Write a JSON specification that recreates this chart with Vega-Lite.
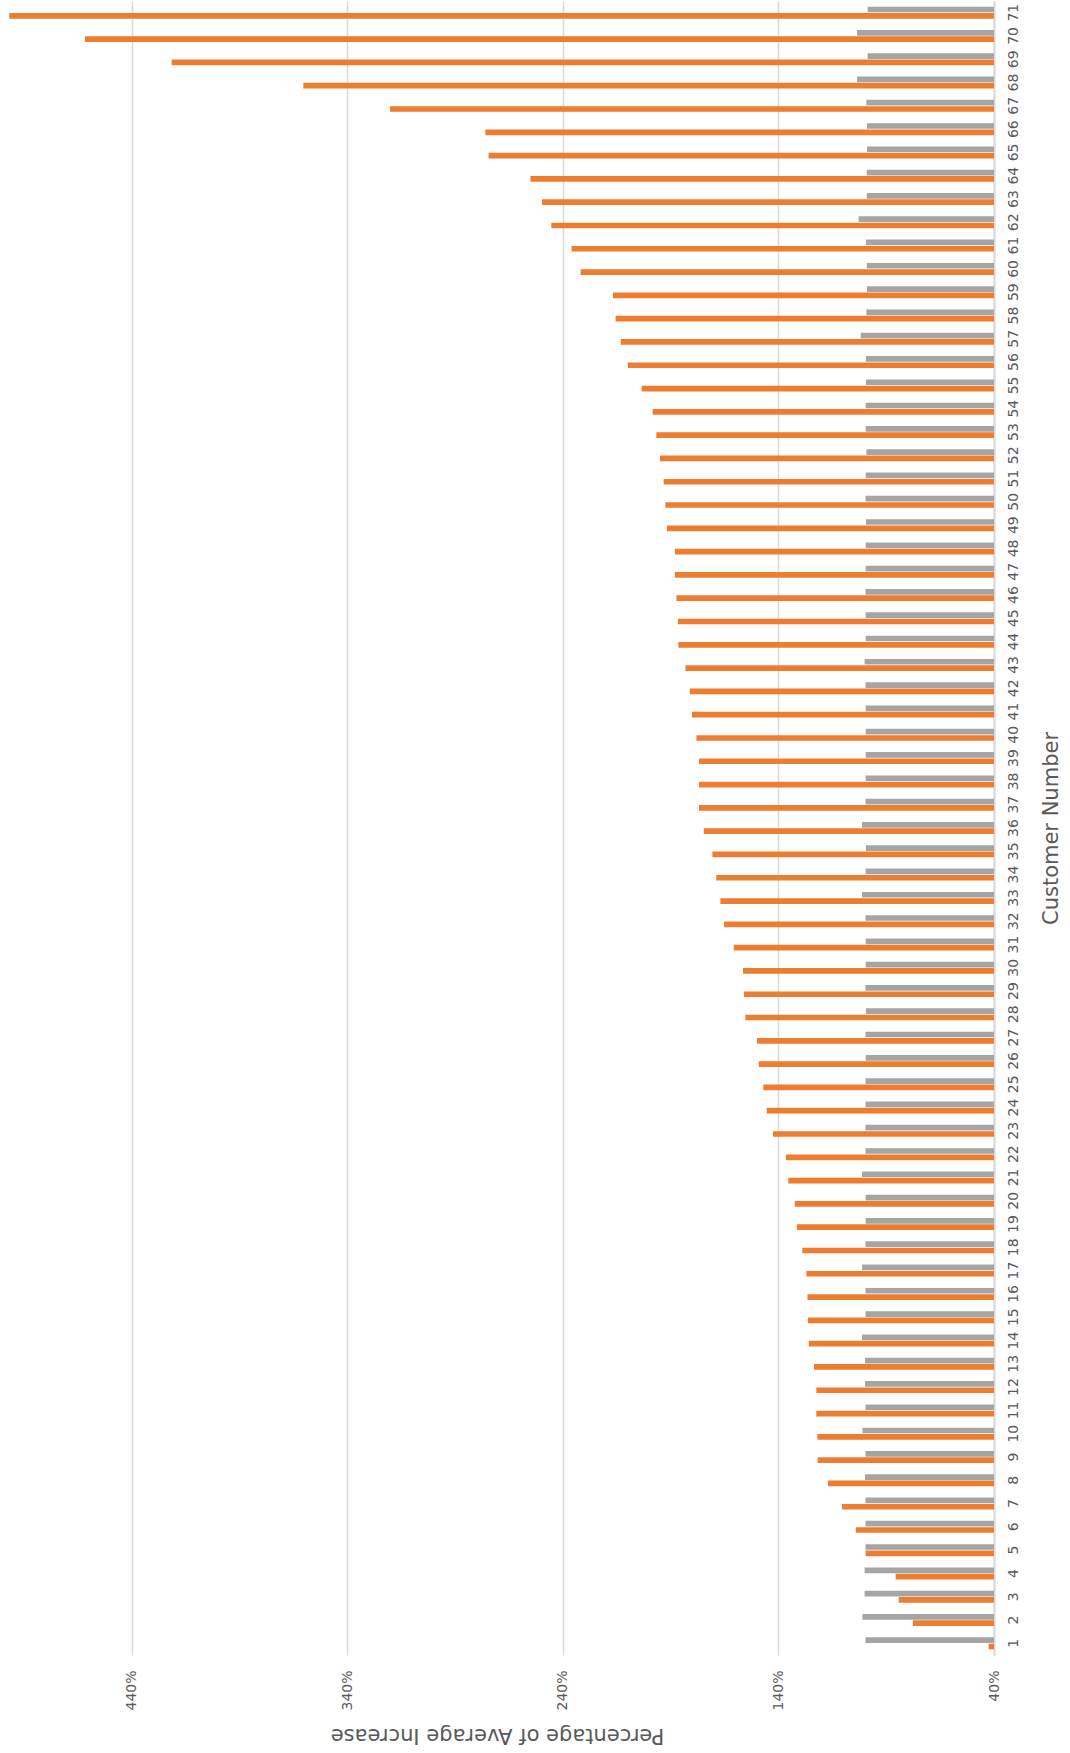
{
  "$schema": "https://vega.github.io/schema/vega-lite/v6.json",
  "width": 994,
  "height": 1654,
  "padding": {"left": 0, "top": 1, "right": 0, "bottom": 0},
  "autosize": {"type": "pad"},
  "background": "white",
  "config": {"view": {"stroke": null}, "font": "DejaVu Sans"},
  "data": {
    "values": [
      {"c": 1, "Average": 99.6, "Customer": 42.5},
      {"c": 2, "Average": 101.0, "Customer": 77.6},
      {"c": 3, "Average": 100.0, "Customer": 84.2},
      {"c": 4, "Average": 100.0, "Customer": 85.6},
      {"c": 5, "Average": 99.6, "Customer": 99.5},
      {"c": 6, "Average": 99.6, "Customer": 104.1},
      {"c": 7, "Average": 99.6, "Customer": 110.5},
      {"c": 8, "Average": 99.8, "Customer": 117.0},
      {"c": 9, "Average": 99.6, "Customer": 121.8},
      {"c": 10, "Average": 101.0, "Customer": 121.9},
      {"c": 11, "Average": 99.6, "Customer": 122.4},
      {"c": 12, "Average": 99.8, "Customer": 122.4},
      {"c": 13, "Average": 99.8, "Customer": 123.5},
      {"c": 14, "Average": 101.2, "Customer": 125.9},
      {"c": 15, "Average": 99.6, "Customer": 126.3},
      {"c": 16, "Average": 99.6, "Customer": 126.5},
      {"c": 17, "Average": 101.2, "Customer": 127.0},
      {"c": 18, "Average": 99.6, "Customer": 128.9},
      {"c": 19, "Average": 99.5, "Customer": 131.4},
      {"c": 20, "Average": 99.5, "Customer": 132.4},
      {"c": 21, "Average": 101.2, "Customer": 135.4},
      {"c": 22, "Average": 99.6, "Customer": 136.5},
      {"c": 23, "Average": 99.6, "Customer": 142.5},
      {"c": 24, "Average": 99.6, "Customer": 145.4},
      {"c": 25, "Average": 99.6, "Customer": 147.0},
      {"c": 26, "Average": 99.5, "Customer": 149.1},
      {"c": 27, "Average": 99.6, "Customer": 149.9},
      {"c": 28, "Average": 99.4, "Customer": 155.3},
      {"c": 29, "Average": 99.6, "Customer": 156.0},
      {"c": 30, "Average": 99.5, "Customer": 156.4},
      {"c": 31, "Average": 99.5, "Customer": 160.7},
      {"c": 32, "Average": 99.6, "Customer": 165.2},
      {"c": 33, "Average": 101.2, "Customer": 166.9},
      {"c": 34, "Average": 99.5, "Customer": 168.8},
      {"c": 35, "Average": 99.4, "Customer": 170.6},
      {"c": 36, "Average": 101.2, "Customer": 174.6},
      {"c": 37, "Average": 99.6, "Customer": 176.8},
      {"c": 38, "Average": 99.5, "Customer": 176.8},
      {"c": 39, "Average": 99.5, "Customer": 176.8},
      {"c": 40, "Average": 99.5, "Customer": 178.0},
      {"c": 41, "Average": 99.5, "Customer": 180.1},
      {"c": 42, "Average": 99.6, "Customer": 181.1},
      {"c": 43, "Average": 100.0, "Customer": 183.1},
      {"c": 44, "Average": 99.5, "Customer": 186.4},
      {"c": 45, "Average": 99.5, "Customer": 186.6},
      {"c": 46, "Average": 99.6, "Customer": 187.3},
      {"c": 47, "Average": 99.5, "Customer": 188.0},
      {"c": 48, "Average": 99.5, "Customer": 188.0},
      {"c": 49, "Average": 99.4, "Customer": 191.7},
      {"c": 50, "Average": 99.6, "Customer": 192.4},
      {"c": 51, "Average": 99.5, "Customer": 193.2},
      {"c": 52, "Average": 99.2, "Customer": 194.9},
      {"c": 53, "Average": 99.5, "Customer": 196.6},
      {"c": 54, "Average": 99.5, "Customer": 198.3},
      {"c": 55, "Average": 99.4, "Customer": 203.4},
      {"c": 56, "Average": 99.4, "Customer": 209.8},
      {"c": 57, "Average": 101.8, "Customer": 213.1},
      {"c": 58, "Average": 99.2, "Customer": 215.5},
      {"c": 59, "Average": 98.9, "Customer": 216.7},
      {"c": 60, "Average": 99.0, "Customer": 231.7},
      {"c": 61, "Average": 99.4, "Customer": 235.9},
      {"c": 62, "Average": 102.8, "Customer": 245.3},
      {"c": 63, "Average": 99.0, "Customer": 249.6},
      {"c": 64, "Average": 99.0, "Customer": 255.0},
      {"c": 65, "Average": 98.9, "Customer": 274.4},
      {"c": 66, "Average": 98.9, "Customer": 275.9},
      {"c": 67, "Average": 99.2, "Customer": 320.1},
      {"c": 68, "Average": 103.5, "Customer": 360.3},
      {"c": 69, "Average": 98.6, "Customer": 421.4},
      {"c": 70, "Average": 103.5, "Customer": 461.6},
      {"c": 71, "Average": 98.6, "Customer": 496.7}
    ]
  },
  "transform": [{"fold": ["Average", "Customer"], "as": ["s", "v"]}],
  "mark": {"type": "bar"},
  "encoding": {
    "y": {
      "field": "c",
      "type": "ordinal",
      "sort": "descending",
      "scale": {"paddingInner": 0.485, "paddingOuter": 0.2425},
      "axis": {
        "orient": "right",
        "title": "Customer Number",
        "labelAngle": -90,
        "labelAlign": "center",
        "labelBaseline": "top",
        "labelPadding": 12,
        "ticks": false,
        "labelFontSize": 14,
        "labelColor": "#595959",
        "labelOverlap": false,
        "domainColor": "#D9D9D9",
        "domainWidth": 2,
        "titleFontSize": 21,
        "titleFontWeight": "normal",
        "titleColor": "#595959",
        "titleAngle": -90,
        "titleBaseline": "top",
        "titleX": 46
      }
    },
    "yOffset": {
      "field": "s",
      "type": "nominal",
      "sort": ["Average", "Customer"],
      "scale": {"paddingInner": 0.1, "paddingOuter": 0}
    },
    "x": {
      "field": "v",
      "type": "quantitative",
      "scale": {"domain": [40, 501], "reverse": true, "zero": false, "nice": false},
      "axis": {
        "values": [40, 140, 240, 340, 440],
        "labelExpr": "datum.value + '%'",
        "labelAngle": -90,
        "labelAlign": "right",
        "labelBaseline": "middle",
        "labelPadding": 15,
        "labelFlush": false,
        "ticks": false,
        "domain": false,
        "grid": true,
        "gridColor": "#D9D9D9",
        "gridWidth": 1.5,
        "labelFontSize": 14,
        "labelColor": "#595959",
        "title": "Percentage of Average Increase",
        "titleFontSize": 21,
        "titleFontWeight": "normal",
        "titleColor": "#595959",
        "titleAngle": 180,
        "titleBaseline": "bottom",
        "titleY": 69
      }
    },
    "x2": {"datum": 40},
    "color": {
      "field": "s",
      "type": "nominal",
      "scale": {"domain": ["Average", "Customer"], "range": ["#A5A5A5", "#ED7D31"]},
      "legend": null
    }
  }
}
